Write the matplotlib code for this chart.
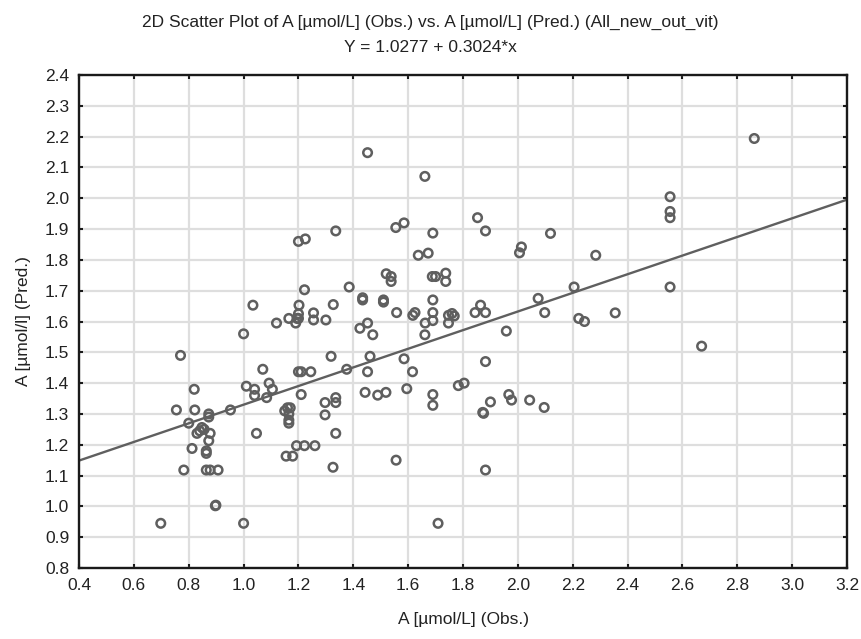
#!/usr/bin/env python3
"""
2D scatter plot of observed vs predicted A with linear fit
"""

import matplotlib
matplotlib.use("Agg")
import matplotlib.pyplot as plt
import numpy as np

plt.rcParams['font.family'] = ['Liberation Sans', 'DejaVu Sans']

# observed values (x)
obs = [1.00, 0.77, 1.07, 1.20, 1.21, 1.245, 0.82, 1.01, 1.04, 1.04, 1.093, 1.105, 1.084, 1.21,
       0.755, 0.822, 0.873, 0.873, 0.952, 1.15, 1.16, 1.17, 1.165, 1.165, 1.165, 0.80,
       0.848, 0.856, 0.84, 0.83, 0.878, 0.873, 1.047, 0.812, 0.864, 0.864, 1.193, 1.222, 1.26,
       1.155, 1.179, 0.782, 0.864, 0.878, 0.907, 0.897, 0.899, 0.698, 1.00,
       1.20, 1.225, 1.222, 1.034, 1.202, 1.255, 1.255, 1.20, 1.195, 1.20, 1.165, 1.12, 1.19,
       1.452, 1.661, 1.336, 1.555, 1.585, 1.69, 1.853, 1.882, 2.119, 1.637, 1.673, 2.013, 2.006,
       1.385, 1.52, 1.538, 1.538, 1.688, 1.70, 1.737, 1.737, 1.30, 1.327, 1.434, 1.434,
       1.51, 1.51, 1.558, 1.617, 1.625, 1.69, 1.69, 1.69, 1.662, 1.747, 1.76, 1.768, 1.747,
       1.844, 1.864, 1.882, 2.098, 2.074, 1.424, 1.452, 1.471, 1.661, 1.958,
       1.319, 1.461, 1.585, 1.376, 1.452, 1.616, 1.882, 1.297, 1.336, 1.336, 1.297, 1.336,
       1.326, 1.443, 1.489, 1.519, 1.595, 1.69, 1.69, 1.783, 1.804, 1.872, 1.875, 1.90,
       1.967, 1.977, 2.043, 2.096, 1.556, 1.882, 1.709,
       2.862, 2.555, 2.555, 2.555, 2.284, 2.205, 2.555, 2.222, 2.243, 2.355, 2.67]

# predicted values (y)
pred = [1.56, 1.49, 1.445, 1.437, 1.437, 1.437, 1.38, 1.39, 1.38, 1.36, 1.40, 1.38, 1.353, 1.363,
        1.313, 1.313, 1.30, 1.29, 1.313, 1.31, 1.32, 1.32, 1.30, 1.27, 1.28, 1.27,
        1.256, 1.25, 1.245, 1.237, 1.237, 1.213, 1.237, 1.188, 1.18, 1.172, 1.197, 1.197, 1.197,
        1.163, 1.163, 1.118, 1.118, 1.118, 1.118, 1.002, 1.004, 0.945, 0.945,
        1.86, 1.868, 1.703, 1.653, 1.653, 1.628, 1.605, 1.625, 1.61, 1.61, 1.61, 1.595, 1.595,
        2.148, 2.071, 1.894, 1.905, 1.92, 1.887, 1.937, 1.894, 1.886, 1.815, 1.822, 1.842, 1.823,
        1.712, 1.755, 1.746, 1.73, 1.746, 1.746, 1.757, 1.73, 1.605, 1.655, 1.677, 1.67,
        1.67, 1.663, 1.629, 1.62, 1.629, 1.67, 1.629, 1.603, 1.595, 1.62, 1.626, 1.618, 1.595,
        1.629, 1.653, 1.629, 1.629, 1.675, 1.578, 1.595, 1.557, 1.557, 1.569,
        1.487, 1.487, 1.479, 1.445, 1.437, 1.437, 1.47, 1.337, 1.353, 1.337, 1.297, 1.237,
        1.127, 1.37, 1.361, 1.37, 1.382, 1.363, 1.328, 1.392, 1.40, 1.305, 1.302, 1.339,
        1.363, 1.345, 1.345, 1.321, 1.15, 1.118, 0.945,
        2.194, 2.005, 1.957, 1.937, 1.815, 1.712, 1.712, 1.61, 1.60, 1.628, 1.52]

intercept = 1.0277
slope = 0.3024

title_line1 = "2D Scatter Plot of A [µmol/L] (Obs.) vs. A [µmol/L] (Pred.) (All_new_out_vit)"
title_line2 = "Y = 1.0277 + 0.3024*x"
xlabel = "A [µmol/L] (Obs.)"
ylabel = "A [µmol/l] (Pred.)"

gray = "#5f5f5f"
txt = "#222222"
fs = 12.5

fig = plt.figure(figsize=(8.61, 6.39), dpi=100)
ax = fig.add_axes([0.0918, 0.1111, 0.8919, 0.7715])

ax.scatter(obs, pred, s=38, facecolors="none", edgecolors=gray, linewidths=1.8, zorder=3)

xs = np.array([0.4, 3.2])
ax.plot(xs, intercept + slope * xs, color=gray, linewidth=1.7, zorder=2)

ax.set_xlim(0.4, 3.2)
ax.set_ylim(0.8, 2.4)
ax.set_xticks(np.arange(0.4, 3.21, 0.2))
ax.set_yticks(np.arange(0.8, 2.41, 0.1))
ax.xaxis.set_major_formatter(plt.FormatStrFormatter("%.1f"))
ax.yaxis.set_major_formatter(plt.FormatStrFormatter("%.1f"))
ax.grid(True, color="#dedede", linewidth=1.6, zorder=0)
ax.set_axisbelow(True)

for side in ["left", "bottom", "top", "right"]:
    ax.spines[side].set_linewidth(1.7)
    ax.spines[side].set_color("#1a1a1a")

ax.tick_params(direction="in", length=3, width=1.5, color="#1a1a1a",
               top=True, right=True, labelsize=fs, labelcolor=txt)
ax.tick_params(axis="x", pad=7)
ax.tick_params(axis="y", pad=7)

ax.set_xlabel(xlabel, fontsize=fs, labelpad=14, color=txt)
ax.set_ylabel(ylabel, fontsize=fs, labelpad=10, color=txt)

fig.text(0.5, 1 - 22 / 639, title_line1, ha="center", va="center", fontsize=fs, color=txt)
fig.text(0.5, 1 - 47 / 639, title_line2, ha="center", va="center", fontsize=fs, color=txt)

plt.savefig("out.png", dpi=100)
